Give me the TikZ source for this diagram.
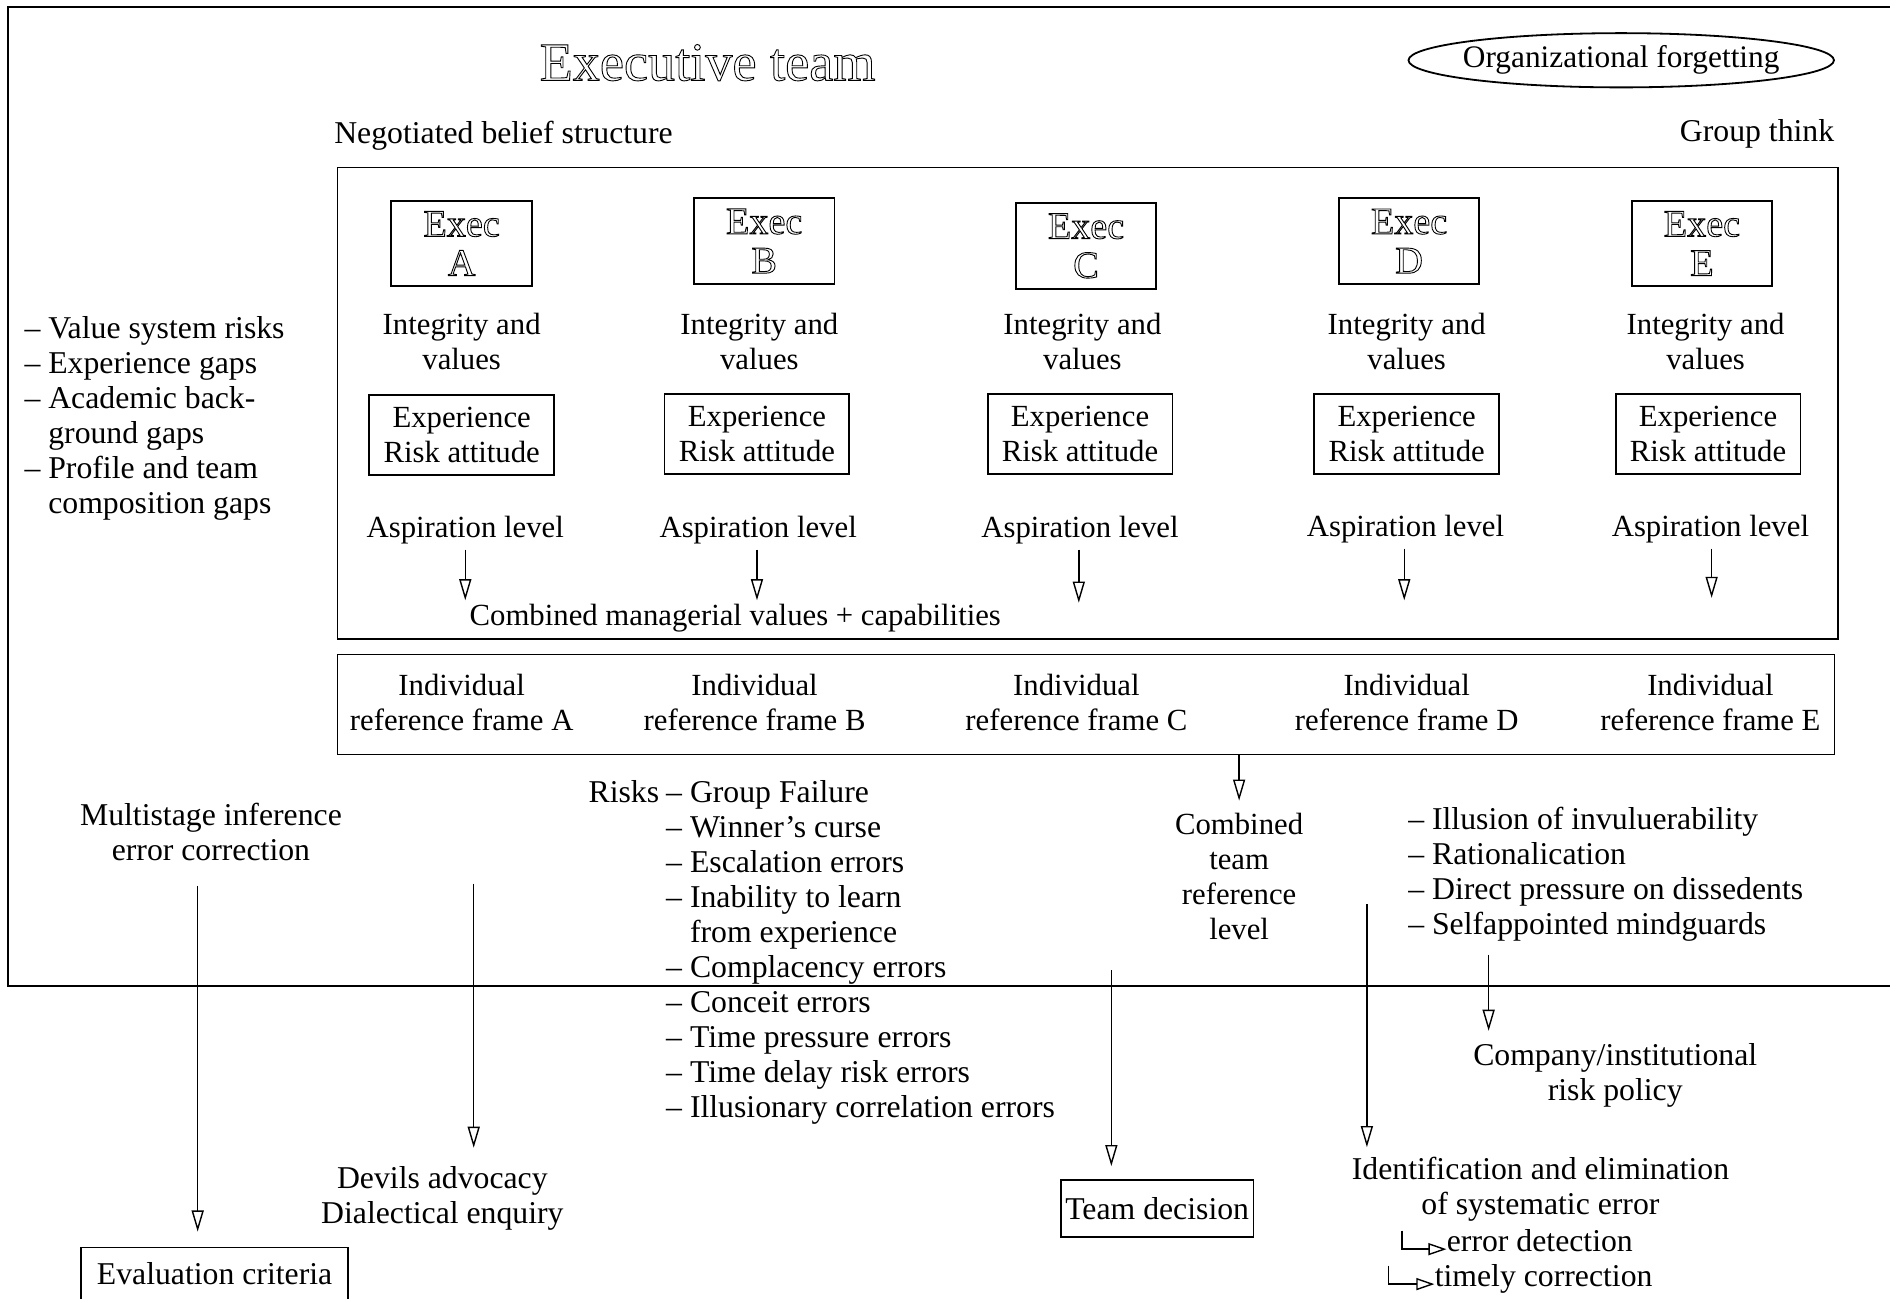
\documentclass[tikz,border=0pt]{standalone}
\usepackage{fontspec}
\setmainfont{Liberation Serif}
\usetikzlibrary{arrows.meta,shapes.geometric}

% outlined (stroked) glyphs for the display lettering
\newcommand\hollow[1]{\special{pdf:literal direct 1 Tr 0.45 w}#1\special{pdf:literal direct 0 Tr}}

\begin{document}
\begin{tikzpicture}[x=0.6pt,y=-0.6pt,
  every node/.style={font=\fontsize{15.3}{17.4}\selectfont, inner sep=0pt, align=center},
  listfont/.style={font=\fontsize{15.8}{17.4}\selectfont},
  frameline/.style={line width=1pt},
  box/.style={draw, line width=0.9pt},
  execbox/.style={box, minimum width=70pt, minimum height=42.6pt, font=\fontsize{19}{19.5}\selectfont},
  expbox/.style={box, minimum width=92pt, minimum height=39.6pt},
  arr/.style={line width=0.7pt, -{Triangle[open,length=10.5pt,width=6pt]}},
  smallarr/.style={line width=0.7pt, -{Triangle[open,length=9pt,width=6pt]}},
]
\useasboundingbox (0,0) rectangle (1568,1077);

% outer frame of the executive team
\draw[frameline] (1575,6) -- (7,6) -- (7,818) -- (1575,818);

% heading
\node[font=\fontsize{27}{30}\selectfont] (title) at (587,52) {\hollow{Executive team}};
\node[font=\fontsize{15.6}{17}\selectfont] (forget) at (1345,50) {Organizational forgetting};
\draw[line width=0.9pt] (forget.center) ellipse [x radius=176.5, y radius=22.5];
\node[anchor=west, listfont] (nbs) at (277,113) {Negotiated belief structure};
\node[anchor=east, listfont] (gt) at (1522,111) {Group think};

% negotiated belief structure frame
\node[box, minimum width=747pt, minimum height=234.6pt] (inner) at (902.5,334.5) {};

% executives
\node[execbox] (exA) at (383,202) {\hollow{Exec}\\\hollow{A}};
\node[execbox] (exB) at (634,200) {\hollow{Exec}\\\hollow{B}};
\node[execbox] (exC) at (901,204) {\hollow{Exec}\\\hollow{C}};
\node[execbox] (exD) at (1169,200) {\hollow{Exec}\\\hollow{D}};
\node[execbox] (exE) at (1412,202) {\hollow{Exec}\\\hollow{E}};

\node (ivA) at (383,283) {Integrity and\\values};
\node (ivB) at (630,283) {Integrity and\\values};
\node (ivC) at (898,283) {Integrity and\\values};
\node (ivD) at (1167,283) {Integrity and\\values};
\node (ivE) at (1415,283) {Integrity and\\values};

\node[expbox] (epA) at (383,361) {Experience\\Risk attitude};
\node[expbox] (epB) at (628,360) {Experience\\Risk attitude};
\node[expbox] (epC) at (896,360) {Experience\\Risk attitude};
\node[expbox] (epD) at (1167,360) {Experience\\Risk attitude};
\node[expbox] (epE) at (1417,360) {Experience\\Risk attitude};

\node (asA) at (386,440) {Aspiration level};
\node (asB) at (629,440) {Aspiration level};
\node (asC) at (896,440) {Aspiration level};
\node (asD) at (1166,439) {Aspiration level};
\node (asE) at (1419,439) {Aspiration level};

\coordinate (tA) at (386,498);
\coordinate (tB) at (628,498);
\coordinate (tC) at (895,500);
\coordinate (tD) at (1165,498);
\coordinate (tE) at (1420,496);
\foreach \e in {A,B,C,D,E}
  \draw[arr] ([yshift=-2.5pt]as\e.south -| t\e) -- (t\e);

\node (cmv) at (610,513) {Combined managerial values + capabilities};

% individual reference frames
\node[box, minimum width=745.2pt, minimum height=49.8pt] (ref) at (901,584.5) {};
\node (rfA) at (383,583) {Individual\\reference frame A};
\node (rfB) at (626,583) {Individual\\reference frame B};
\node (rfC) at (893,583) {Individual\\reference frame C};
\node (rfD) at (1167,583) {Individual\\reference frame D};
\node (rfE) at (1419,583) {Individual\\reference frame E};

\node (ctl) at (1028,727) {Combined\\team\\reference\\level};
\draw[arr] (ref.south -| ctl) -- ([yshift=6pt]ctl.north);

% left-hand gaps
\node[anchor=base west, align=left, listfont] (gaps) at (20,281) {%
  \begin{tabular}[t]{@{}l@{}}
  -- Value system risks\\
  -- Experience gaps\\
  -- Academic back-\\
  \hphantom{-- }ground gaps\\
  -- Profile and team\\
  \hphantom{-- }composition gaps
  \end{tabular}};

% error correction
\node[listfont] (multi) at (175,690) {Multistage inference\\error correction};
\node[box, minimum width=133pt, minimum height=26.4pt, listfont] (eval) at (178,1057) {Evaluation criteria};
\coordinate (m0) at (164,735);
\draw[arr] (m0) -- (m0 |- eval.north) [shorten >=7.5pt];

\node[listfont] (devil) at (367,994) {Devils advocacy\\Dialectical enquiry};
\coordinate (d0) at (393,733);
\draw[arr] (d0) -- (d0 |- devil.north) [shorten >=9pt];

% group failure risks
\node[anchor=base west, align=left, listfont] (risks) at (488,666) {%
  \begin{tabular}[t]{@{}l@{}l@{}}
  Risks\kern3.5pt & -- Group Failure\\
  & -- Winner’s curse\\
  & -- Escalation errors\\
  & -- Inability to learn\\
  & \hphantom{-- }from experience\\
  & -- Complacency errors\\
  & -- Conceit errors\\
  & -- Time pressure errors\\
  & -- Time delay risk errors\\
  & -- Illusionary correlation errors
  \end{tabular}};

\node[box, minimum width=96pt, minimum height=28.2pt, listfont] (team) at (960,1002.5) {Team decision};
\coordinate (td0) at (922,805);
\draw[arr] (td0) -- (td0 |- team.north) [shorten >=6.5pt];

% group think symptoms
\node[anchor=base west, align=left, listfont] (gtl) at (1168,688) {%
  \begin{tabular}[t]{@{}l@{}}
  -- Illusion of invuluerability\\
  -- Rationalication\\
  -- Direct pressure on dissedents\\
  -- Selfappointed mindguards
  \end{tabular}};

\node[listfont] (policy) at (1340,892) {Company/institutional\\risk policy};
\coordinate (cp0) at (1235,792);
\draw[arr] (cp0) -- (cp0 |- policy.north) [shorten >=6pt];

\node[listfont] (ident) at (1278,987) {Identification and elimination\\of systematic error};
\coordinate (id0) at (1134,750);
\draw[arr] (id0) -- (id0 |- ident.north) [shorten >=5pt];

\node[anchor=base west, listfont] (edet) at (1200,1038) {error detection};
\node[anchor=base west, listfont] (tcor) at (1190,1067) {timely correction};
\coordinate (ed0) at (1163,1021);
\coordinate (tc0) at (1152,1050);
\draw[smallarr] (ed0) |- ([yshift=1pt]edet.base west);
\draw[smallarr] (tc0) |- ([yshift=1pt]tcor.base west);
\end{tikzpicture}
\end{document}
